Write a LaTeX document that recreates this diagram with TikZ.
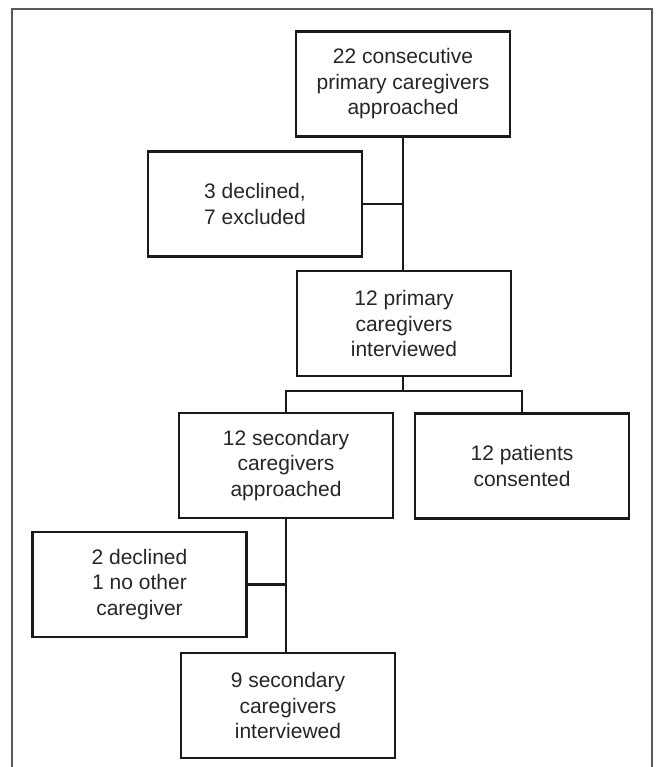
\documentclass[tikz,border=0pt]{standalone}
\usepackage{fontspec}
\setmainfont{Liberation Sans}
\usepackage{tikz}

\begin{document}
\begin{tikzpicture}[x=1pt, y=-1pt, stagebox/.style={draw=black!90, line width=2.4pt, minimum width=214pt, minimum height=105pt, inner sep=0pt, align=center, text=black!85, font=\fontsize{21}{25.5}\selectfont}, link/.style={draw=black!90, line width=2.3pt}]
\useasboundingbox (0,0) rectangle (657,767);
\draw[line width=1.3pt, black!65] (12,767) -- (12,9) -- (652,9) -- (652,767);
\node[stagebox] (approached) at (403,84) {22 consecutive\\primary caregivers\\approached};
\node[stagebox] (declined) at (255,204) {3 declined,\\7 excluded};
\node[stagebox] (primary) at (404,323.5) {12 primary\\caregivers\\interviewed};
\node[stagebox] (secondary) at (286,465.5) {12 secondary\\caregivers\\approached};
\node[stagebox] (patients) at (522,466) {12 patients\\consented};
\node[stagebox] (other) at (139.5,584.5) {2 declined\\1 no other\\caregiver};
\node[stagebox] (final) at (288,705.5) {9 secondary\\caregivers\\interviewed};
\coordinate (split) at (403,391);
\draw[link] (approached.south) -- (approached.south |- primary.north);
\draw[link] (declined.east) -- (declined.east -| approached.south);
\draw[link] (primary.south -| split) -- (split);
\draw[link] (secondary.north) |- (split) -| (patients.north);
\draw[link] (secondary.south) -- (secondary.south |- final.north);
\draw[link] (other.east) -- (other.east -| secondary.south);
\end{tikzpicture}
\end{document}
